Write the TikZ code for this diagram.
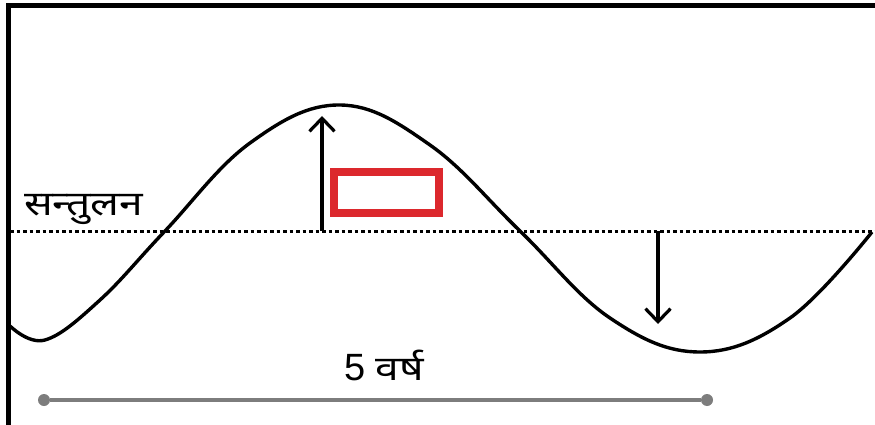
\documentclass[tikz,border=0pt]{standalone}
\usepackage{fontspec}
\usepackage{tikz}
\usetikzlibrary{arrows.meta}
\newfontfamily\devfont[Script=Devanagari,FakeStretch=1.25]{Noto Sans}
\newfontfamily\numfont{Liberation Sans}
\definecolor{boxred}{RGB}{220,40,45}
\definecolor{spangray}{RGB}{125,125,125}

\begin{document}
\begin{tikzpicture}[x=1pt,y=-1pt,
  wave/.style={line width=3.4pt,black},
  amp/.style={line width=3.4pt,-{Straight Barb[length=13pt,width=25pt,line width=3.2pt]}},
  label/.style={font=\devfont\fontsize{34}{38}\selectfont,inner sep=0pt}]
  \useasboundingbox (0,0) rectangle (875,425);
  % frame
  \draw[line width=5pt] (8,425) -- (8,6) -- (875,6);
  % equilibrium
  \coordinate (e0) at (10,231);
  \coordinate (e2) at (875,231);
  \draw[line width=3pt,dash pattern=on 3.5pt off 3pt] (e0) -- (e2);
  \node[label,anchor=base west] (eq) at (24,215) {सन्तुलन};
  % wave
  \draw[wave] plot[smooth,tension=0.65] coordinates {(10,326) (45,340) (100,300) (165,231)
    (250,143) (340,105) (430,145) (520,231) (610,318) (700,352) (790,318) (872,232)};
  % amplitudes
  \coordinate (a1) at (322,231);
  \coordinate (p1) at (322,116);
  \coordinate (a2) at (658,231);
  \coordinate (p2) at (658,324);
  \draw[amp] (a1) -- (p1);
  \draw[amp] (a2) -- (p2);
  \node[draw=boxred,line width=8pt,minimum width=105pt,minimum height=41pt,inner sep=0pt] (blank) at (386.5,192.5) {};
  % period
  \node[circle,fill=spangray,minimum size=12pt,inner sep=0pt] (t0) at (44,400) {};
  \node[circle,fill=spangray,minimum size=12pt,inner sep=0pt] (t1) at (707,400) {};
  \draw[spangray,line width=3.4pt] (t0) -- (t1);
  \node[label,anchor=base] (per) at (384,380) {\numfont\fontsize{38}{40}\selectfont 5 \devfont\fontsize{34}{38}\selectfont वर्ष};
\end{tikzpicture}
\end{document}
